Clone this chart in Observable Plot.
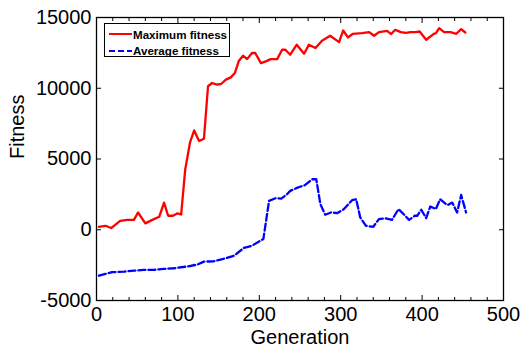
<!DOCTYPE html>
<html>
<head>
<meta charset="utf-8">
<script src="https://cdn.jsdelivr.net/npm/d3@7"></script>
<script src="https://cdn.jsdelivr.net/npm/@observablehq/plot@0.6"></script>
<style>
  body { margin: 0; background: #fff; }
  #wrap { position: relative; width: 524px; height: 347px; }
  #legend { position: absolute; left: 104px; top: 23px; width: 124px; height: 32px; border: 1.3px solid #000; background: #fff; font-family: "Liberation Sans", Arial, sans-serif; font-weight: bold; font-size: 11.6px; }
  #legend .row { position: absolute; left: 0; height: 14px; display: flex; align-items: center; white-space: nowrap; }
  #legend svg { display: block; }
</style>
</head>
<body>
<div id="wrap"></div>
<script>
const genMax = [3, 11, 18, 29, 38, 46, 51, 60, 68, 77, 83, 88, 94, 99, 104, 109, 115, 120, 126, 132, 137, 142, 148, 153, 159, 165, 170, 175, 180, 185, 191, 195, 202, 208, 214, 222, 228, 232, 238, 246, 255, 261, 269, 277, 287, 298, 303, 309, 315, 326, 335, 341, 347, 357, 362, 367, 374, 380, 386, 392, 397, 405, 414, 417, 421, 427, 435, 442, 448, 453];
const maxFitness = [210, 280, 120, 630, 700, 700, 1220, 450, 680, 915, 1920, 990, 990, 1150, 1080, 4270, 6200, 7020, 6270, 6430, 10140, 10370, 10260, 10300, 10610, 10770, 11080, 11950, 12300, 12060, 12490, 12490, 11780, 11900, 12060, 12060, 12720, 12720, 12370, 13080, 12440, 13080, 12840, 13360, 13710, 13260, 14080, 13590, 13850, 13900, 13970, 13710, 13970, 14060, 13830, 14130, 13970, 13920, 13970, 13970, 14010, 13430, 13830, 13900, 14250, 13970, 13970, 13850, 14180, 13940];
const genAvg = [3, 11, 19, 34, 46, 58, 70, 83, 95, 111, 124, 132, 144, 156, 169, 181, 191, 205, 212, 220, 227, 234, 238, 247, 256, 265, 270, 275, 281, 288, 296, 304, 314, 319, 324, 331, 340, 347, 355, 363, 371, 378, 384, 391, 394, 399, 405, 410, 417, 422, 431, 437, 443, 448, 454];
const avgFitness = [-3240, -3120, -3000, -2960, -2890, -2840, -2840, -2770, -2720, -2600, -2460, -2250, -2230, -2060, -1830, -1290, -1130, -650, 2040, 2230, 2200, 2510, 2750, 2980, 3150, 3570, 3570, 1810, 1060, 1220, 1180, 1460, 2090, 2160, 870, 280, 210, 750, 800, 700, 1460, 1060, 700, 990, 990, 1410, 820, 1640, 1460, 2160, 1740, 1920, 1220, 2460, 1220];
const xTicks = [0, 100, 200, 300, 400, 500];
const xMinorTicks = [20, 40, 60, 80, 120, 140, 160, 180, 220, 240, 260, 280, 320, 340, 360, 380, 420, 440, 460, 480];
const yTicks = [-5000, 0, 5000, 10000, 15000];
const seriesNames = ["Maximum fitness", "Average fitness"];
const seriesColors = ["#ff0000", "#0000ff"];
const xLabel = "Generation";
const yLabel = "Fitness";

const maxData = genMax.map((g, i) => ({g, v: maxFitness[i]}));
const avgData = genAvg.map((g, i) => ({g, v: avgFitness[i]}));

const chart = Plot.plot({
  width: 524,
  height: 347,
  marginLeft: 96,
  marginRight: 21,
  marginTop: 17,
  marginBottom: 47,
  style: {fontFamily: "'Liberation Sans', Arial, sans-serif", fontSize: "20px", color: "#000", background: "#fff"},
  x: {domain: [0, 500]},
  y: {domain: [-5000, 15000]},
  marks: [
    Plot.frame({stroke: "#000", strokeWidth: 1.3}),
    Plot.axisX({ticks: xTicks, tickSize: -5, text: null, anchor: "bottom", label: null, stroke: "#000"}),
    Plot.axisX({ticks: xTicks, tickSize: -5, text: null, anchor: "top", label: null, stroke: "#000"}),
    Plot.axisX({ticks: xMinorTicks, tickSize: -3, text: null, anchor: "bottom", label: null, stroke: "#000"}),
    Plot.axisX({ticks: xMinorTicks, tickSize: -3, text: null, anchor: "top", label: null, stroke: "#000"}),
    Plot.axisY({ticks: yTicks, tickSize: -5, text: null, anchor: "left", label: null, stroke: "#000"}),
    Plot.axisY({ticks: yTicks, tickSize: -5, text: null, anchor: "right", label: null, stroke: "#000"}),
    Plot.axisX({ticks: xTicks, tickSize: 0, tickPadding: 6, anchor: "bottom", label: null, fill: "#000", fontSize: 20}),
    Plot.axisY({ticks: yTicks, tickSize: 0, tickPadding: 5, anchor: "left", label: null, fill: "#000", fontSize: 20, tickFormat: d => String(d)}),
    Plot.text([xLabel], {frameAnchor: "bottom", dy: 43, fontSize: 20, fill: "#000"}),
    Plot.text([yLabel], {frameAnchor: "left", dx: -79, rotate: -90, fontSize: 20, fill: "#000"}),
    Plot.line(avgData, {x: "g", y: "v", stroke: seriesColors[1], strokeWidth: 2.3, strokeDasharray: "7,3"}),
    Plot.line(maxData, {x: "g", y: "v", stroke: seriesColors[0], strokeWidth: 2.3})
  ]
});

const wrap = document.getElementById("wrap");
wrap.appendChild(chart);

const legend = document.createElement("div");
legend.id = "legend";
seriesNames.forEach((name, i) => {
  const row = document.createElement("div");
  row.className = "row";
  row.style.top = (i === 0 ? 3 : 19.5) + "px";
  const dash = i === 1 ? 'stroke-dasharray="6,3"' : '';
  row.innerHTML = `<svg width="28" height="14"><line x1="4" x2="27" y1="7" y2="7" stroke="${seriesColors[i]}" stroke-width="2" ${dash}/></svg><span>${name}</span>`;
  legend.appendChild(row);
});
wrap.appendChild(legend);
</script>
</body>
</html>
